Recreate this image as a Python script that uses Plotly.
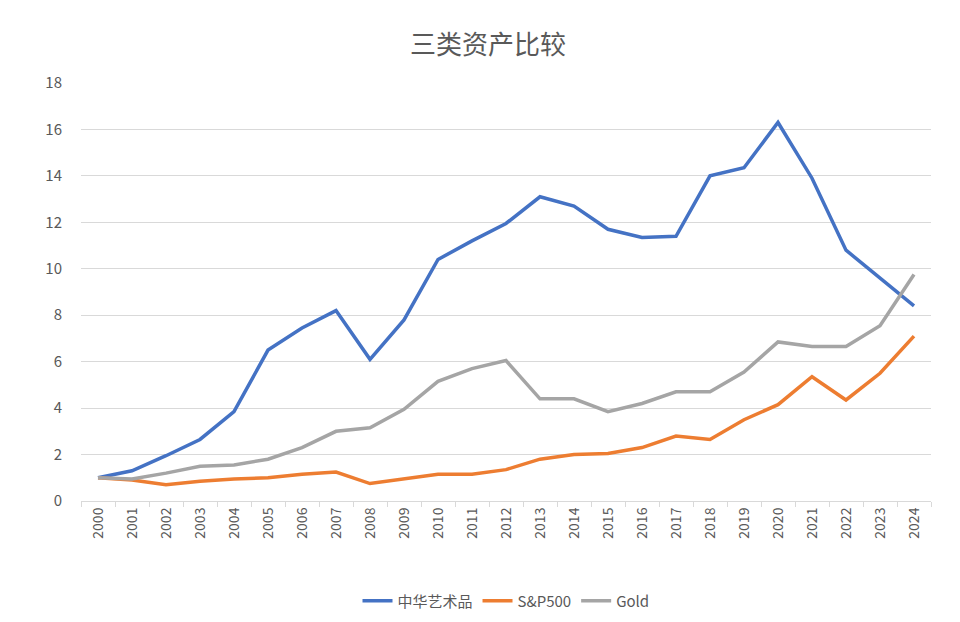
import plotly.graph_objects as go

years = [str(y) for y in range(2000, 2025)]
art = [1.0,1.3,1.95,2.65,3.85,6.5,7.45,8.2,6.1,7.8,10.4,11.2,11.95,13.1,12.7,11.7,11.35,11.4,14.0,14.35,16.3,13.9,10.8,9.6,8.4]
sp500 = [1.0,0.9,0.7,0.85,0.95,1.0,1.15,1.25,0.75,0.95,1.15,1.15,1.35,1.8,2.0,2.05,2.3,2.8,2.65,3.5,4.15,5.35,4.35,5.5,7.1]
gold = [1.0,0.95,1.2,1.5,1.55,1.8,2.3,3.0,3.15,3.95,5.15,5.7,6.05,4.4,4.4,3.85,4.2,4.7,4.7,5.55,6.85,6.65,6.65,7.55,9.75]

fig = go.Figure()
for name, vals, col in [("中华艺术品", art, "#4472C4"), ("S&P500", sp500, "#ED7D31"), ("Gold", gold, "#A5A5A5")]:
    fig.add_trace(go.Scatter(x=years, y=vals, name=name, mode="lines",
                             line=dict(color=col, width=3.5)))

fig.update_layout(
    width=960, height=622, paper_bgcolor="white", plot_bgcolor="white",
    font=dict(family="Noto Sans CJK SC, sans-serif", color="#595959", size=14),
    title=dict(text="三类资产比较", x=0.5, xanchor="center", y=0.955, font=dict(size=26, color="#595959")),
    margin=dict(l=73, r=37, t=75, b=110),
    xaxis=dict(type="category", range=[-0.5, 24.5], tickangle=-90, showgrid=False, showline=True,
               linecolor="#D9D9D9", ticks="outside", tickson="boundaries", ticklen=5,
               tickcolor="#D9D9D9", tickfont=dict(size=14)),
    yaxis=dict(range=[0, 18], dtick=2, showgrid=True, gridcolor="#D9D9D9",
               zeroline=False, tickfont=dict(size=15), ticklabelstandoff=18),
    legend=dict(orientation="h", x=0.5, xanchor="center", y=-0.2, yanchor="top",
                font=dict(size=15)),
)
fig.write_html("out.html")
